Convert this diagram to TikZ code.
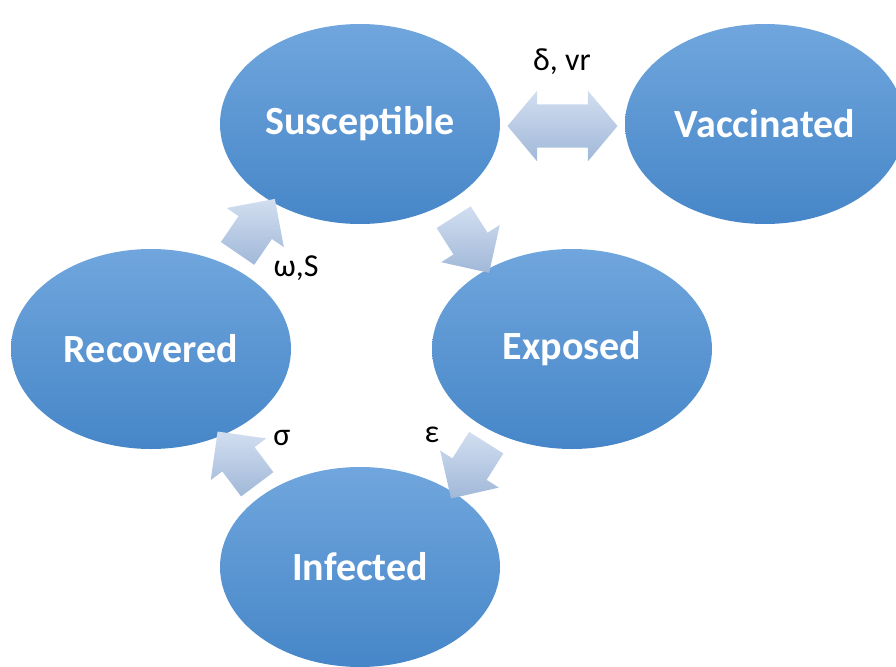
\documentclass[tikz,border=0pt]{standalone}
\usepackage{fontspec}
\setmainfont{Carlito}
\usetikzlibrary{shapes.geometric,shapes.arrows,calc}

\definecolor{ovaltop}{RGB}{112,166,221}
\definecolor{ovalbot}{RGB}{70,134,200}
\definecolor{arrowtop}{RGB}{210,222,240}
\definecolor{arrowbot}{RGB}{160,184,216}

\tikzset{
  compartment/.style={ellipse, minimum width=280pt, minimum height=200pt, inner sep=0pt,
    top color=ovaltop, bottom color=ovalbot, draw=none, text=white,
    font=\fontsize{40}{48}\selectfont\bfseries},
  flow/.style={single arrow, minimum height=66pt, inner xsep=0pt, inner ysep=20pt,
    single arrow head extend=14.5pt, rotate=#1,
    top color=arrowtop, bottom color=arrowbot},
  rate/.style={font=\fontsize{32}{38}\selectfont}
}

\begin{document}
\begin{tikzpicture}[x=1pt, y=-1pt]
    \useasboundingbox (0,0) rectangle (896,666);
    \node[compartment] (sus) at (360,124) {Susceptible};
    \node[compartment] (vac) at (765,124) {Vaccinated};
    \node[compartment] (rec) at (151,349) {Recovered};
    \node[compartment] (exp) at (572,349) {Exposed};
    \node[compartment] (inf) at (360,567) {Infected};

    \node[double arrow, minimum height=110pt, inner xsep=0pt, inner ysep=21.5pt,
      double arrow head extend=13.5pt, double arrow tip angle=100,
      top color=arrowtop, bottom color=arrowbot]
      (sv) at ($(sus)!0.5!(vac)+(0,2)$) {};
    \node[flow=-57.5] (se) at ($(sus)!0.5!(exp)$) {};
    \node[flow=237.8] (ei) at ($(exp)!0.5!(inf)+(8,4)$) {};
    \node[flow=126.9] (ir) at ($(inf)!0.5!(rec)+(-12,8)$) {};
    \node[flow=55.6] (rs) at ($(rec)!0.5!(sus)+(-5,-2)$) {};

    \node[rate] (lsv) at (562,62) {δ, vr};
    \node[rate] (lrs) at (296,268) {ω,S};
    \node[rate] (lir) at (282,438) {σ};
    \node[rate] (lei) at (432,435) {ε};
\end{tikzpicture}
\end{document}
